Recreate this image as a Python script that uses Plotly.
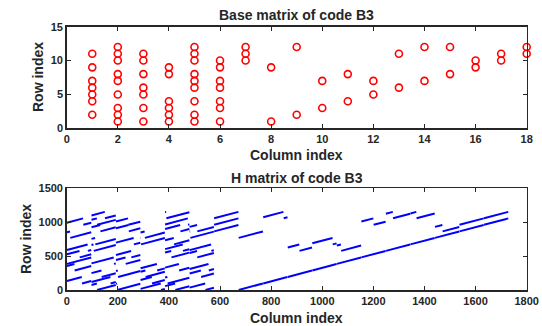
import plotly.graph_objects as go

# ---------------- data ----------------
Z = 96  # lifting size
base_cols = list(range(1, 19))
base_rows = [
    [2, 4, 5, 6, 7, 9, 11],
    [1, 2, 3, 5, 7, 8, 10, 11, 12],
    [1, 3, 5, 6, 8, 10, 11],
    [1, 2, 3, 4, 8, 9],
    [1, 2, 4, 6, 7, 8, 10, 11, 12],
    [1, 3, 4, 6, 7, 9, 10],
    [10, 11, 12],
    [1, 9],
    [2, 12],
    [3, 7],
    [4, 8],
    [5, 7],
    [6, 11],
    [7, 12],
    [8, 12],
    [9, 10],
    [10, 11],
    [11, 12],
]
base_shifts = [
    [59, 30, 0, 50, 82, 13, 64],
    [22, 75, 40, 88, 9, 15, 35, 22, 53],
    [5, 8, 38, 60, 70, 50, 48],
    [80, 45, 20, 65, 2, 17],
    [40, 10, 55, 25, 70, 35, 60, 90, 5],
    [62, 45, 75, 30, 85, 3, 30],
    [0, 0, 0],
    [0, 0],
    [0, 80],
    [0, 46],
    [0, 80],
    [0, 17],
    [0, 48],
    [0, 28],
    [0, 24],
    [0, 30],
    [0, 0],
    [0, 0],
]
x_ticks_top = list(range(0, 19, 2))
y_ticks_top = [0, 5, 10, 15]
x_ticks_bot = list(range(0, 1801, 200))
y_ticks_bot = [0, 500, 1000, 1500]

# ---------------- build traces ----------------
bx, by = [], []
for c, rows in zip(base_cols, base_rows):
    for r in rows:
        bx.append(c)
        by.append(r)

hx, hy = [], []
for c, rows, shs in zip(base_cols, base_rows, base_shifts):
    for r, s in zip(rows, shs):
        prev = None
        for i in range(Z):
            col = (c - 1) * Z + (i + s) % Z + 1
            row = (r - 1) * Z + i + 1
            if prev is not None and col < prev:
                hx.append(None)
                hy.append(None)
            hx.append(col)
            hy.append(row)
            prev = col
        hx.append(None)
        hy.append(None)

fig = go.Figure()
fig.add_trace(go.Scatter(
    x=bx, y=by, mode="markers", xaxis="x", yaxis="y",
    marker=dict(symbol="circle-open", size=7, color="#FF0000",
                line=dict(width=1.6, color="#FF0000")),
    showlegend=False, hoverinfo="skip", cliponaxis=False))
fig.add_trace(go.Scatter(
    x=hx, y=hy, mode="lines", xaxis="x2", yaxis="y2",
    line=dict(color="#0000FF", width=2),
    showlegend=False, hoverinfo="skip", connectgaps=False))

W, H = 542, 326
xd = [66.7 / W, 526.7 / W]
top_y = [1 - 128.3 / H, 1 - 26.7 / H]
bot_y = [1 - 290 / H, 1 - 188.3 / H]

FAM = "Liberation Sans, Arial, sans-serif"
tickfont = dict(family=FAM, size=11, color="#262626", weight="bold")
axcommon = dict(showline=True, linecolor="#262626", linewidth=1.5,
                mirror="ticks", ticks="inside", ticklen=4, tickwidth=1,
                tickcolor="#262626", showgrid=False, zeroline=False,
                tickfont=tickfont, automargin=False)

fig.update_layout(
    template="none",
    width=W, height=H, margin=dict(l=0, r=0, t=0, b=0),
    paper_bgcolor="white", plot_bgcolor="white",
    xaxis=dict(domain=xd, anchor="y", range=[0, 18], tickvals=x_ticks_top, **axcommon),
    yaxis=dict(domain=top_y, anchor="x", range=[0, 15], tickvals=y_ticks_top, **axcommon),
    xaxis2=dict(domain=xd, anchor="y2", range=[0, 1800], tickvals=x_ticks_bot, **axcommon),
    yaxis2=dict(domain=bot_y, anchor="x2", range=[0, 1500], tickvals=y_ticks_bot, **axcommon),
)

lab = dict(family=FAM, color="#262626", weight="bold")
cx = (66.7 + 526.7) / 2 / W
ann = [
    dict(text="Base matrix of code B3", x=cx, y=1 - 15 / H, size=14),
    dict(text="H matrix of code B3", x=cx, y=1 - 178 / H, size=14),
    dict(text="Column index", x=cx, y=1 - 155 / H, size=14),
    dict(text="Column index", x=cx, y=1 - 318 / H, size=14),
]
for a in ann:
    fig.add_annotation(text=a["text"], x=a["x"], y=a["y"], xref="paper", yref="paper",
                       showarrow=False, xanchor="center", yanchor="middle",
                       font=dict(size=a["size"], **lab))
fig.add_annotation(text="Row index", x=38 / W, y=1 - 77 / H, xref="paper", yref="paper",
                   showarrow=False, textangle=-90, xanchor="center", yanchor="middle",
                   font=dict(size=14, **lab))
fig.add_annotation(text="Row index", x=26 / W, y=1 - 239 / H, xref="paper", yref="paper",
                   showarrow=False, textangle=-90, xanchor="center", yanchor="middle",
                   font=dict(size=14, **lab))

fig.write_html("out.html", config={"displayModeBar": False, "staticPlot": True},
               post_script="document.body.style.margin='0px';document.body.style.overflow='hidden';")
